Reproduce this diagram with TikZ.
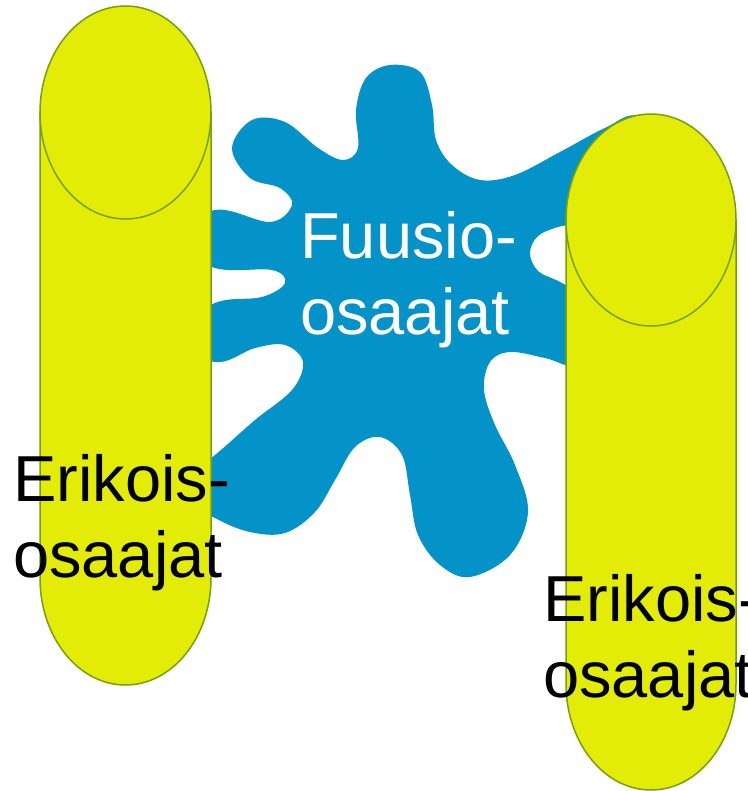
\documentclass[tikz,border=0pt]{standalone}
\usepackage{fontspec}
\setmainfont{Liberation Sans}
\definecolor{splash}{RGB}{3,147,201}
\definecolor{tube}{RGB}{226,236,6}
\definecolor{tubeline}{RGB}{118,160,12}
\begin{document}
\begin{tikzpicture}[x=1pt, y=-1pt,
	tubestyle/.style={fill=tube, draw=tubeline, line width=1.5pt},
	bigtext/.style={inner sep=0pt, anchor=north west, align=left, font=\fontsize{65}{76}\selectfont}]
	\useasboundingbox (0,0) rectangle (747,791);
	% splash
	\fill[splash] plot[smooth cycle, tension=0.6] coordinates {
		(390,65) (420,72) (432,105) (436,140) (452,165) (480,180) (515,175)
		(560,152) (605,128) (640,116) (690,150) (640,200) (580,222)
		(558,227) (538,236) (530,253) (538,271) (560,282) (590,300)
		(620,340) (580,366) (545,358) (510,352) (490,362) (484,390)
		(495,425) (515,465) (528,512) (510,555) (470,577) (440,565)
		(418,535) (410,495) (402,455) (380,437) (355,447) (335,480)
		(315,512) (285,533) (250,532) (215,518) (170,490) (215,455)
		(255,420) (292,390) (303,362) (285,345) (255,348) (215,362)
		(170,335) (215,303) (262,297) (285,283) (272,270) (215,268)
		(170,240) (215,210) (270,222) (292,205) (280,188) (250,178)
		(232,148) (252,120) (285,122) (318,148) (343,160) (358,148)
		(356,110) (366,78)};
	% left tube
	\draw[tubestyle] (40,112) -- (40,578) .. controls (40,637.1) and (78.3,685) .. (125.5,685)
		.. controls (172.7,685) and (211,637.1) .. (211,578) -- (211,112) -- cycle;
	\draw[tubestyle] (125.5,112.5) ellipse [x radius=85.5, y radius=106.5];
	% right tube
	\draw[tubestyle] (566,220) -- (566,684) .. controls (566,742.5) and (604.1,790) .. (651,790)
		.. controls (697.9,790) and (736,742.5) .. (736,684) -- (736,220) -- cycle;
	\draw[tubestyle] (651,220) ellipse [x radius=85, y radius=106];
	% texts
	\node[bigtext, text=white] (fuusio) at (300,211) {Fuusio-\\osaajat};
	\node[bigtext] (erikoisL) at (13,454) {Erikois-\\osaajat};
	\node[bigtext] (erikoisR) at (543,574) {Erikois-\\osaajat};
\end{tikzpicture}
\end{document}
